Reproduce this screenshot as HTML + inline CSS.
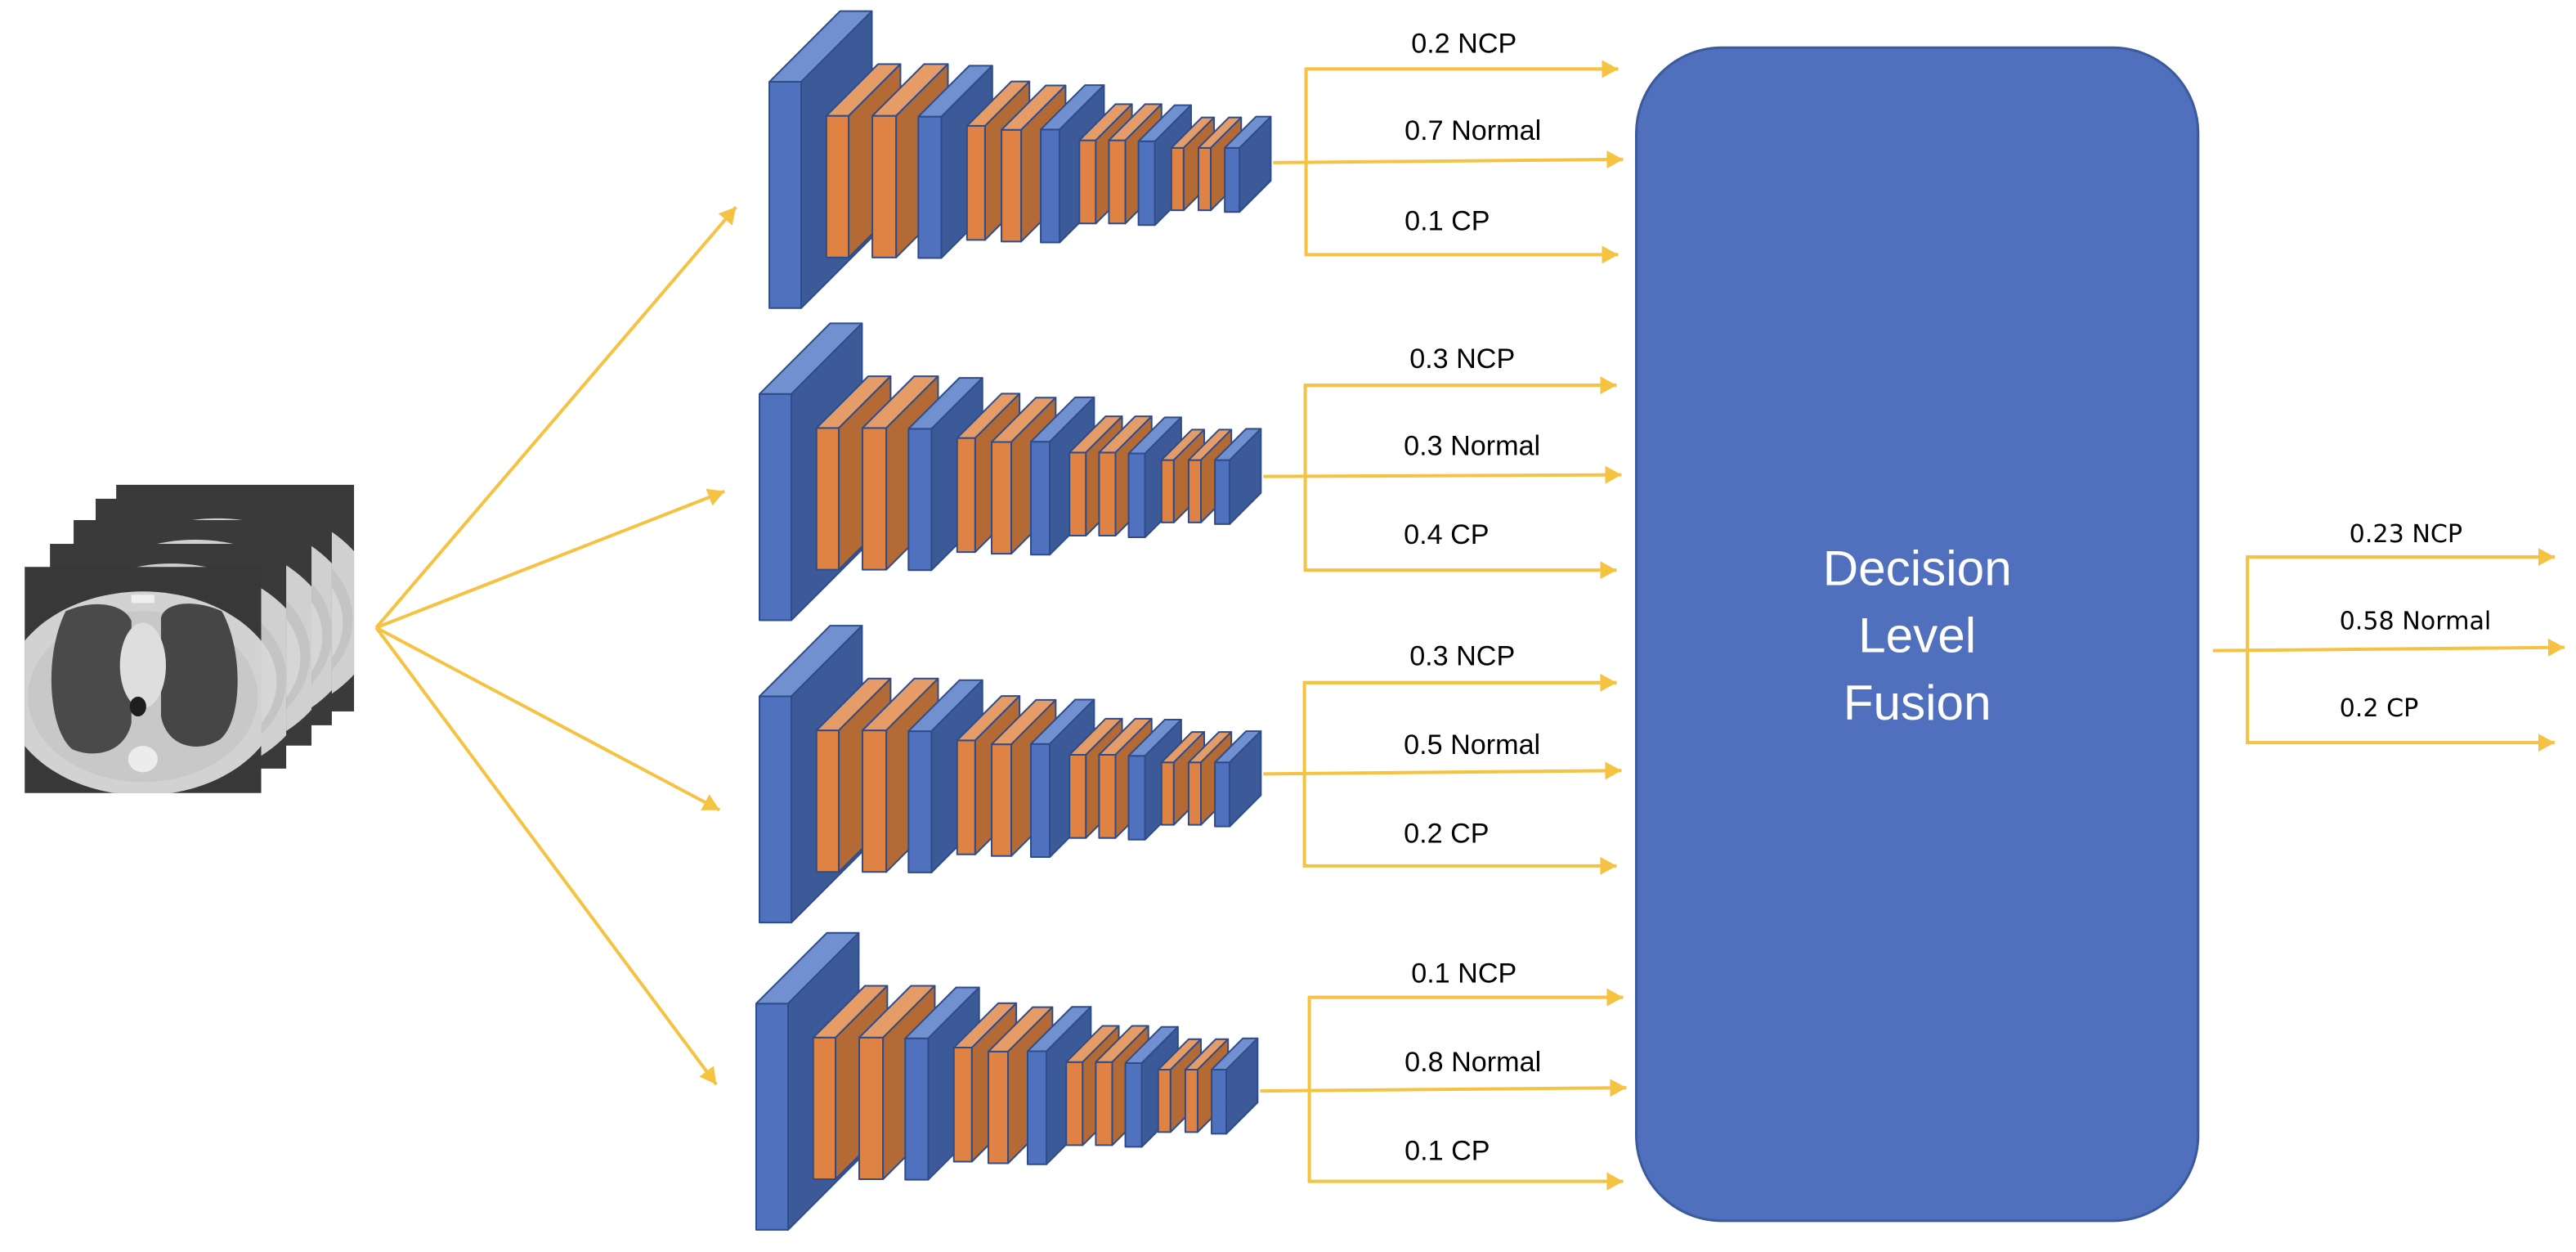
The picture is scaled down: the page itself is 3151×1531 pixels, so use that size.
<!DOCTYPE html>
<html><head><meta charset="utf-8"><style>
html,body{margin:0;padding:0;background:#fff;}
svg{display:block;}
</style></head><body>
<svg width="3151" height="1531" viewBox="0 0 1568 762" preserveAspectRatio="none" xmlns="http://www.w3.org/2000/svg">
<defs>
<marker id="ah" markerUnits="userSpaceOnUse" markerWidth="12" markerHeight="12" refX="10" refY="6" orient="auto">
<path d="M0,0.5 L10,6 L0,11.5 Z" fill="#F5C242"/>
</marker>
<clipPath id="c0"><rect x="70.7" y="295" width="144.8" height="138.4"/></clipPath>
<clipPath id="c1"><rect x="58.2" y="303.5" width="143.8" height="137.9"/></clipPath>
<clipPath id="c2"><rect x="44.8" y="316.5" width="144.8" height="137.3"/></clipPath>
<clipPath id="c3"><rect x="30.4" y="331" width="143.8" height="136.8"/></clipPath>
<clipPath id="c4"><rect x="15" y="345" width="144" height="137.7"/></clipPath>
<g id="slice">
<rect x="0" y="0" width="145" height="138" fill="#3a3a3a"/>
<ellipse cx="74" cy="78" rx="86" ry="66" fill="#d0d0d0"/>
<ellipse cx="74" cy="82" rx="70" ry="54" fill="#c4c4c4"/>
<ellipse cx="74" cy="84" rx="64" ry="48" fill="#d6d6d6"/>
</g>
<g id="cnn" stroke="#2F4C8A" stroke-width="1" stroke-linejoin="round">
<rect x="468.3" y="49.8" width="19.4" height="137.7" fill="#4F71BE"/>
<polygon points="468.3,49.8 511.3,6.8 530.7,6.8 487.7,49.8" fill="#7190CF"/>
<polygon points="487.7,49.8 530.7,6.8 530.7,144.5 487.7,187.5" fill="#3C5A98"/>
<rect x="503" y="70.5" width="13.6" height="86.2" fill="#DF8344"/>
<polygon points="503,70.5 534.5,39 548.1,39 516.6,70.5" fill="#E59C66"/>
<polygon points="516.6,70.5 548.1,39 548.1,125.2 516.6,156.7" fill="#B36A35"/>
<rect x="531" y="70.5" width="14.5" height="86.2" fill="#DF8344"/>
<polygon points="531,70.5 562.5,39 577,39 545.5,70.5" fill="#E59C66"/>
<polygon points="545.5,70.5 577,39 577,125.2 545.5,156.7" fill="#B36A35"/>
<rect x="559" y="71" width="14" height="86" fill="#4F71BE"/>
<polygon points="559,71 590,40 604,40 573,71" fill="#7190CF"/>
<polygon points="573,71 604,40 604,126 573,157" fill="#3C5A98"/>
<rect x="588.6" y="76.6" width="11" height="69.4" fill="#DF8344"/>
<polygon points="588.6,76.6 615.6,49.6 626.6,49.6 599.6,76.6" fill="#E59C66"/>
<polygon points="599.6,76.6 626.6,49.6 626.6,119 599.6,146" fill="#B36A35"/>
<rect x="609.6" y="79" width="12" height="68" fill="#DF8344"/>
<polygon points="609.6,79 636.6,52 648.6,52 621.6,79" fill="#E59C66"/>
<polygon points="621.6,79 648.6,52 648.6,120 621.6,147" fill="#B36A35"/>
<rect x="633.5" y="78.8" width="11.5" height="68.8" fill="#4F71BE"/>
<polygon points="633.5,78.8 660.5,51.8 672,51.8 645,78.8" fill="#7190CF"/>
<polygon points="645,78.8 672,51.8 672,120.6 645,147.6" fill="#3C5A98"/>
<rect x="657" y="85.4" width="10" height="50.6" fill="#DF8344"/>
<polygon points="657,85.4 679,63.4 689,63.4 667,85.4" fill="#E59C66"/>
<polygon points="667,85.4 689,63.4 689,114 667,136" fill="#B36A35"/>
<rect x="675" y="85.4" width="10" height="50.6" fill="#DF8344"/>
<polygon points="675,85.4 697,63.4 707,63.4 685,85.4" fill="#E59C66"/>
<polygon points="685,85.4 707,63.4 707,114 685,136" fill="#B36A35"/>
<rect x="693" y="86" width="10" height="51" fill="#4F71BE"/>
<polygon points="693,86 715,64 725,64 703,86" fill="#7190CF"/>
<polygon points="703,86 725,64 725,115 703,137" fill="#3C5A98"/>
<rect x="713" y="90" width="7.5" height="38" fill="#DF8344"/>
<polygon points="713,90 731.5,71.5 739,71.5 720.5,90" fill="#E59C66"/>
<polygon points="720.5,90 739,71.5 739,109.5 720.5,128" fill="#B36A35"/>
<rect x="729.5" y="90" width="7.5" height="38" fill="#DF8344"/>
<polygon points="729.5,90 748,71.5 755.5,71.5 737,90" fill="#E59C66"/>
<polygon points="737,90 755.5,71.5 755.5,109.5 737,128" fill="#B36A35"/>
<rect x="745.5" y="90" width="9" height="39" fill="#4F71BE"/>
<polygon points="745.5,90 764.5,71 773.5,71 754.5,90" fill="#7190CF"/>
<polygon points="754.5,90 773.5,71 773.5,110 754.5,129" fill="#3C5A98"/>
</g>
</defs>

<!-- CT stack -->
<g clip-path="url(#c0)"><use href="#slice" transform="translate(70.7,295)"/></g>
<g clip-path="url(#c1)"><use href="#slice" transform="translate(58.2,303.5)"/></g>
<g clip-path="url(#c2)"><use href="#slice" transform="translate(44.8,316.5)"/></g>
<g clip-path="url(#c3)"><use href="#slice" transform="translate(30.4,331)"/></g>
<g clip-path="url(#c4)">
<rect x="15" y="345" width="144" height="137.7" fill="#383838"/>
<ellipse cx="87" cy="422" rx="84" ry="62" fill="#d2d2d2"/>
<ellipse cx="87" cy="424" rx="70" ry="52" fill="#c8c8c8"/>
<path d="M40,372 C58,364 76,368 80,378 L80,440 C76,458 58,462 44,456 C30,445 26,400 40,372 Z" fill="#4a4a4a"/>
<path d="M135,372 C117,364 100,367 98,376 L98,436 C102,456 122,458 134,450 C148,438 148,395 135,372 Z" fill="#464646"/>
<ellipse cx="87" cy="405" rx="14" ry="26" fill="#dedede"/>
<ellipse cx="84" cy="430" rx="5" ry="6" fill="#1e1e1e"/>
<ellipse cx="87" cy="462" rx="9" ry="8" fill="#ececec"/>
<rect x="80" y="362" width="14" height="5" fill="#efefef"/>
</g>

<!-- hub arrows -->
<g stroke="#F5C242" stroke-width="2" fill="none">
<line x1="229" y1="382" x2="448" y2="126" marker-end="url(#ah)"/>
<line x1="229" y1="382" x2="441" y2="299" marker-end="url(#ah)"/>
<line x1="229" y1="382" x2="438" y2="493" marker-end="url(#ah)"/>
<line x1="229" y1="382" x2="436" y2="660" marker-end="url(#ah)"/>
</g>

<use href="#cnn"/>
<use href="#cnn" transform="translate(-6,190)"/>
<use href="#cnn" transform="translate(-6,374)"/>
<use href="#cnn" transform="translate(-8,561)"/>

<g stroke="#F5C242" stroke-width="2" fill="none">
<polyline points="985,42 795,42 795,155 985,155" marker-end="url(#ah)"/>
<line x1="795" y1="42" x2="985" y2="42" marker-end="url(#ah)"/>
<line x1="775" y1="99" x2="988" y2="97" marker-end="url(#ah)"/>
<polyline points="984,234.5 794.5,234.5 794.5,347 984,347" marker-end="url(#ah)"/>
<line x1="794.5" y1="234.5" x2="984" y2="234.5" marker-end="url(#ah)"/>
<line x1="769" y1="290" x2="987" y2="289" marker-end="url(#ah)"/>
<polyline points="984,415.5 794,415.5 794,527 984,527" marker-end="url(#ah)"/>
<line x1="794" y1="415.5" x2="984" y2="415.5" marker-end="url(#ah)"/>
<line x1="769" y1="471" x2="987" y2="469" marker-end="url(#ah)"/>
<polyline points="988,607 797,607 797,719 988,719" marker-end="url(#ah)"/>
<line x1="797" y1="607" x2="988" y2="607" marker-end="url(#ah)"/>
<line x1="767" y1="664" x2="990" y2="662" marker-end="url(#ah)"/>
</g>

<g font-family="'Liberation Sans', sans-serif" font-size="17" fill="#000">
<text x="859" y="32">0.2 NCP</text>
<text x="855" y="85">0.7 Normal</text>
<text x="855" y="140">0.1 CP</text>
<text x="858" y="224">0.3 NCP</text>
<text x="854.5" y="277">0.3 Normal</text>
<text x="854.5" y="331">0.4 CP</text>
<text x="858" y="405">0.3 NCP</text>
<text x="854.5" y="459">0.5 Normal</text>
<text x="854.5" y="513">0.2 CP</text>
<text x="859" y="598">0.1 NCP</text>
<text x="855" y="652">0.8 Normal</text>
<text x="855" y="706">0.1 CP</text>
</g>

<rect x="996" y="29" width="342" height="714" rx="52" ry="52" fill="#5070BD" stroke="#3A5A9C" stroke-width="1.5"/>
<g font-family="'Liberation Sans', sans-serif" font-size="30" fill="#fff" text-anchor="middle">
<text x="1167" y="356">Decision</text>
<text x="1167" y="397">Level</text>
<text x="1167" y="438">Fusion</text>
</g>

<g stroke="#F5C242" stroke-width="2" fill="none">
<polyline points="1555,339 1368,339 1368,452 1555,452" marker-end="url(#ah)"/>
<line x1="1368" y1="339" x2="1555" y2="339" marker-end="url(#ah)"/>
<line x1="1347" y1="396" x2="1561" y2="394" marker-end="url(#ah)"/>
</g>
<g font-family="'DejaVu Sans', 'Liberation Sans', sans-serif" font-size="15" fill="#000">
<text x="1430" y="330">0.23 NCP</text>
<text x="1424" y="383">0.58 Normal</text>
<text x="1424" y="436">0.2 CP</text>
</g>
</svg>
</body></html>
